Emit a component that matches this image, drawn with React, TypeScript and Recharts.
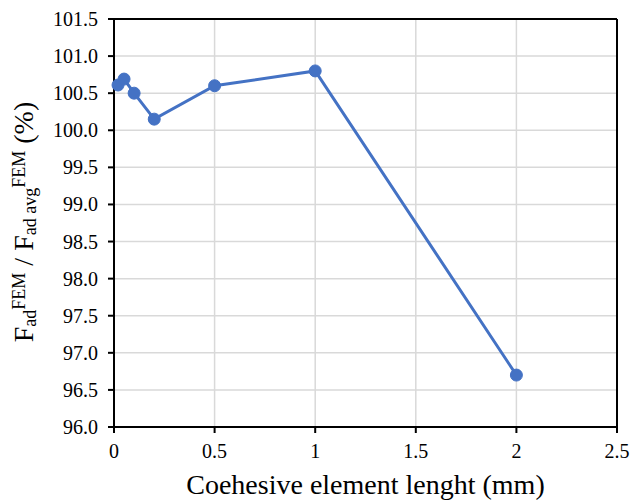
import React from "react";
import {
  LineChart,
  Line,
  XAxis,
  YAxis,
  CartesianGrid,
  ReferenceLine,
} from "recharts";

// Element length (mm) and normalised adhesive force (%)
const elementLength = [0.02, 0.05, 0.1, 0.2, 0.5, 1, 2];
const forceRatio = [100.61, 100.69, 100.5, 100.15, 100.6, 100.8, 96.7];

const xTicks = [0, 0.5, 1, 1.5, 2, 2.5];
const yTicks = [96, 96.5, 97, 97.5, 98, 98.5, 99, 99.5, 100, 100.5, 101, 101.5];

const data = elementLength.map((x, i) => ({ x, y: forceRatio[i] }));

const FONT = "'Liberation Serif', 'Times New Roman', serif";
const BLUE = "#4472C4";
const textStyle = { fontFamily: FONT, fill: "#000" };

const XTick = (props: any) => {
  const { x, y, payload } = props;
  return (
    <text x={x} y={y + 23} textAnchor="middle" style={{ ...textStyle, fontSize: 20 }}>
      {String(payload.value)}
    </text>
  );
};

const YTick = (props: any) => {
  const { x, y, payload } = props;
  return (
    <text x={x - 8} y={y + 7} textAnchor="end" style={{ ...textStyle, fontSize: 20 }}>
      {Number(payload.value).toFixed(1)}
    </text>
  );
};

const YTitle = () => {
  const cx = 33;
  const cy = 222;
  return (
    <text
      transform={`translate(${cx},${cy}) rotate(-90)`}
      textAnchor="middle"
      style={{ ...textStyle, fontSize: 28 }}
    >
      <tspan>F</tspan>
      <tspan style={{ fontSize: 18 }} dy={3}>ad</tspan>
      <tspan style={{ fontSize: 18 }} dy={-11}>FEM</tspan>
      <tspan dy={8}> / F</tspan>
      <tspan style={{ fontSize: 18 }} dy={3}>ad avg</tspan>
      <tspan style={{ fontSize: 18 }} dy={-11}>FEM</tspan>
      <tspan dy={8}> (%)</tspan>
    </text>
  );
};

const XTitle = (props: any) => {
  const vb = props.viewBox || {};
  const cx = (vb.x ?? 114) + (vb.width ?? 503) / 2;
  return (
    <text x={cx} y={494} textAnchor="middle" style={{ ...textStyle, fontSize: 28 }}>
      Coehesive element lenght (mm)
    </text>
  );
};

export default function App() {
  return (
    <div style={{ position: "absolute", left: 0, top: 0, background: "#fff" }}>
      <LineChart
        width={630}
        height={500}
        data={data}
        margin={{ top: 19, right: 13, bottom: 0, left: 0 }}
      >
        <CartesianGrid stroke="#d9d9d9" strokeWidth={1.5} />
        <XAxis
          dataKey="x"
          type="number"
          domain={[0, 2.5]}
          ticks={xTicks}
          height={73}
          stroke="#000"
          strokeWidth={2}
          tickSize={6}
          tick={<XTick />}
          label={<XTitle />}
        />
        <YAxis
          type="number"
          domain={[96, 101.5]}
          ticks={yTicks}
          width={114}
          stroke="#000"
          strokeWidth={2}
          tickSize={6}
          tick={<YTick />}
          label={<YTitle />}
        />
        <ReferenceLine x={2.5} stroke="#000" strokeWidth={2} />
        <ReferenceLine y={101.5} stroke="#000" strokeWidth={2} />
        <Line
          dataKey="y"
          stroke={BLUE}
          strokeWidth={3}
          dot={{ r: 6, fill: BLUE, stroke: BLUE, strokeWidth: 1 }}
          activeDot={false}
          isAnimationActive={false}
        />
      </LineChart>
    </div>
  );
}
